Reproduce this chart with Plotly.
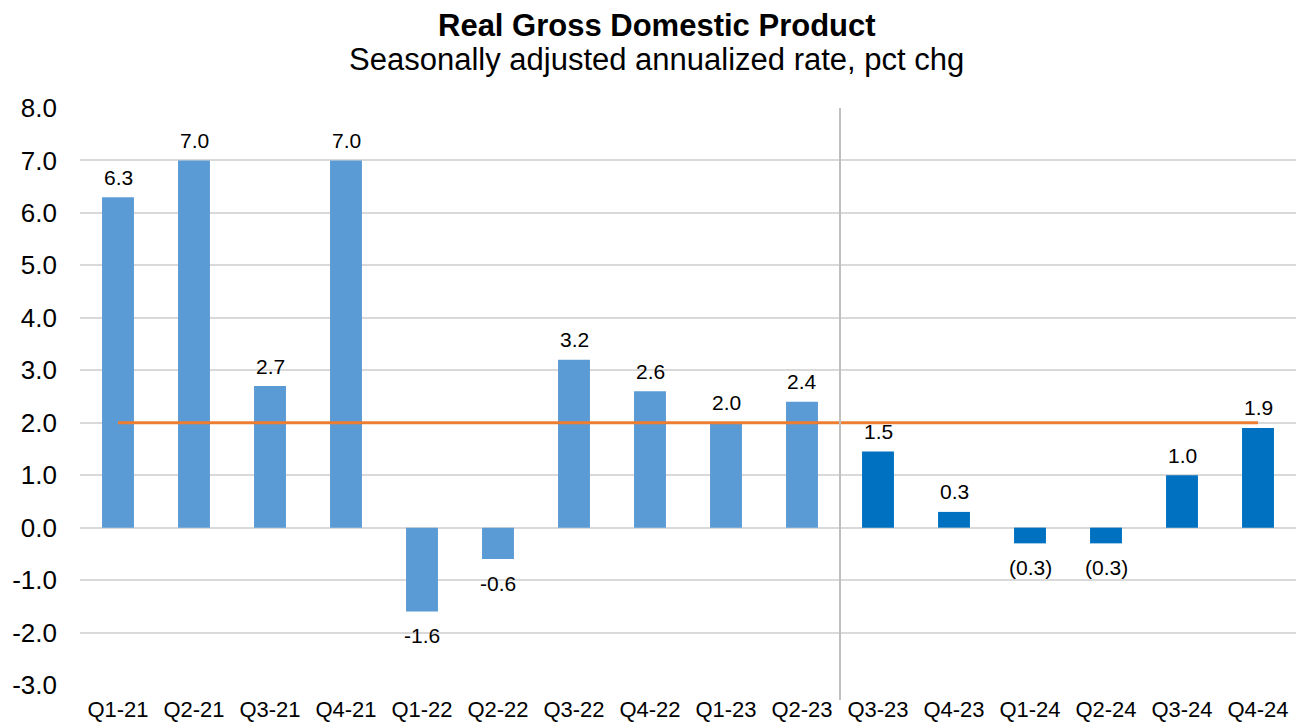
import plotly.graph_objects as go

quarters = ["Q1-21","Q2-21","Q3-21","Q4-21","Q1-22","Q2-22","Q3-22","Q4-22",
            "Q1-23","Q2-23","Q3-23","Q4-23","Q1-24","Q2-24","Q3-24","Q4-24"]
gdp = [6.3, 7.0, 2.7, 7.0, -1.6, -0.6, 3.2, 2.6, 2.0, 2.4, 1.45, 0.3, -0.3, -0.3, 1.0, 1.9]
labels = ["6.3","7.0","2.7","7.0","-1.6","-0.6","3.2","2.6","2.0","2.4",
          "1.5","0.3","(0.3)","(0.3)","1.0","1.9"]
target = [2.0] * len(quarters)
y_ticks = [-3, -2, -1, 0, 1, 2, 3, 4, 5, 6, 7, 8]
y_ticktext = ["-3.0","-2.0","-1.0","0.0","1.0","2.0","3.0","4.0","5.0","6.0","7.0","8.0"]
n_actual = 10  # first 10 quarters are actuals, rest forecast

colors = ["#5B9BD5"] * n_actual + ["#0070C0"] * (len(quarters) - n_actual)
FONT = "Liberation Sans, Arial"

fig = go.Figure()
fig.add_trace(go.Bar(
    x=quarters, y=gdp, marker=dict(color=colors, line=dict(width=0)),
    width=0.42, showlegend=False,
))
fig.add_trace(go.Scatter(
    x=quarters, y=target, mode="lines",
    line=dict(color="#ED7D31", width=3), showlegend=False,
))

for q, v, t in zip(quarters, gdp, labels):
    fig.add_annotation(
        x=q, y=v, text=t, showarrow=False, xref="x", yref="y",
        yanchor="middle", yshift=(20 if v >= 0 else -24),
        font=dict(family=FONT, size=21, color="#000000"),
    )

fig.add_shape(type="line", xref="x", yref="paper",
              x0=n_actual - 0.5, x1=n_actual - 0.5, y0=-0.026, y1=1,
              line=dict(color="#BFBFBF", width=2))

fig.add_annotation(text="<b>Real Gross Domestic Product</b>", xref="paper", yref="paper",
                   x=0.4745, y=1, xanchor="center", yanchor="middle", yshift=83,
                   showarrow=False, font=dict(family=FONT, size=31, color="#000000"))
fig.add_annotation(text="Seasonally adjusted annualized rate, pct chg", xref="paper", yref="paper",
                   x=0.4745, y=1, xanchor="center", yanchor="middle", yshift=49,
                   showarrow=False, font=dict(family=FONT, size=31, color="#000000"))

fig.update_layout(
    width=1298, height=716,
    paper_bgcolor="white", plot_bgcolor="white",
    margin=dict(l=72, r=10, t=100, b=39, autoexpand=False),
    font=dict(family=FONT, color="#000000"),
    bargap=0.58,
)
fig.update_xaxes(
    type="category", showgrid=False, showline=False, zeroline=False,
    tickfont=dict(size=22), ticks="", ticklabelstandoff=9, automargin=False,
)
fig.update_yaxes(
    range=[-3, 8], tickvals=y_ticks, ticktext=y_ticktext,
    showgrid=True, gridcolor="#D9D9D9", gridwidth=1.5,
    zeroline=False, showline=False, tickfont=dict(size=26),
    ticklabelstandoff=22, automargin=False,
)

fig.write_html("out.html")
